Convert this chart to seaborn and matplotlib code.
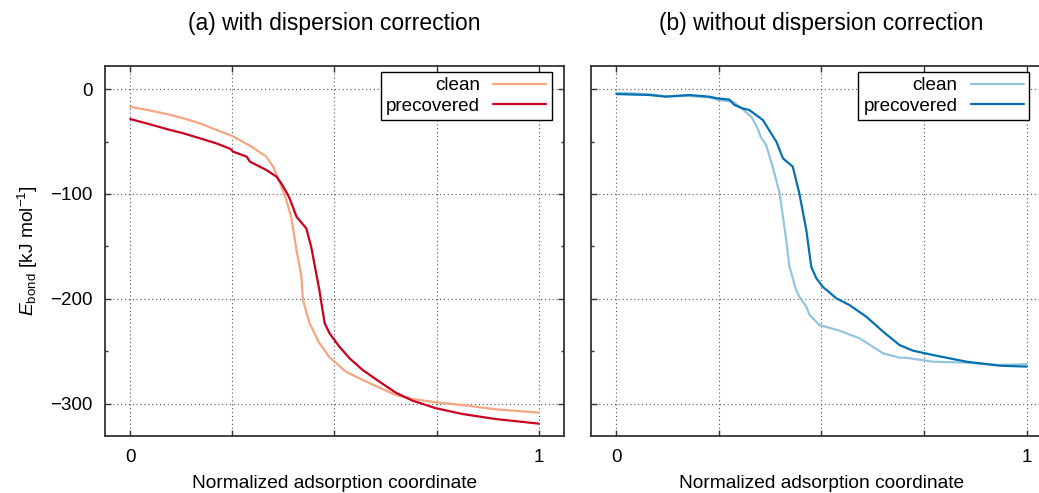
import matplotlib
matplotlib.use('Agg')
import matplotlib.pyplot as plt
import seaborn as sns
import pandas as pd
from matplotlib.ticker import MultipleLocator

# (a) with dispersion correction
a_clean_x = [0, 0.049, 0.089, 0.13, 0.171, 0.211, 0.25, 0.293, 0.333, 0.35, 0.362, 0.37, 0.382,
             0.394, 0.407, 0.419, 0.423, 0.439, 0.463, 0.488, 0.528, 0.569, 0.61, 0.65, 0.691,
             0.748, 0.813, 0.894, 1.0]
a_clean_y = [-17, -20.5, -23.8, -27.9, -32.7, -39, -44.8, -54, -64.4, -74, -85, -93, -105.7,
             -121.6, -153.3, -178.7, -201, -223, -242, -255.6, -269.2, -277.1, -284.4, -291.4, -295.2,
             -298.4, -301, -305, -308.2]
a_prec_x = [0, 0.049, 0.089, 0.13, 0.171, 0.211, 0.245, 0.252, 0.285, 0.293, 0.333, 0.358, 0.37,
            0.382, 0.39, 0.407, 0.431, 0.443, 0.463, 0.476, 0.488, 0.512, 0.537, 0.569, 0.61,
            0.65, 0.691, 0.748, 0.813, 0.894, 1.0]
a_prec_y = [-28.6, -33.7, -38.1, -42.2, -47, -51.8, -57, -59.7, -64.4, -69.2, -77.1, -83.5, -90,
            -98, -104, -121.6, -132.7, -150.2, -191.4, -223, -232.7, -245.4, -256.5, -267.6, -278.7,
            -289.2, -296.8, -304, -309.5, -314.3, -318.7]

# (b) without dispersion correction
b_clean_x = [0, 0.08, 0.12, 0.177, 0.226, 0.25, 0.284, 0.31, 0.33, 0.345, 0.352, 0.365, 0.381,
             0.398, 0.414, 0.422, 0.438, 0.446, 0.463, 0.471, 0.495, 0.544, 0.593, 0.65, 0.69,
             0.705, 0.771, 0.853, 0.934, 1.0]
b_clean_y = [-3.5, -5, -7, -6.7, -8, -10.5, -12, -20, -27, -38, -46, -53.3, -74,
             -99.4, -143.8, -169.2, -191.4, -197.8, -207.3, -215.2, -224.8, -230.2, -237.5, -251.7, -255.9,
             -255.9, -259.7, -260.6, -262.9, -262]
b_prec_x = [0, 0.08, 0.12, 0.177, 0.226, 0.247, 0.275, 0.287, 0.307, 0.324, 0.357, 0.39, 0.406,
            0.43, 0.446, 0.463, 0.475, 0.487, 0.503, 0.536, 0.568, 0.609, 0.65, 0.69, 0.723,
            0.771, 0.853, 0.934, 1.0]
b_prec_y = [-4.8, -5.7, -7.3, -5.7, -7.3, -9, -10, -15, -18.4, -20, -29.5, -50.2, -66,
            -74, -99.4, -134.3, -169.2, -180, -188.3, -199.3, -205.7, -216.8, -231, -243.8, -249.2,
            -253.3, -259.7, -263.5, -264.4]

series_names = ["clean", "precovered"]
titles = ["(a) with dispersion correction", "(b) without dispersion correction"]
x_ticks = [0, 0.25, 0.5, 0.75, 1]
x_ticklabels = ["0", "", "", "", "1"]
y_ticks = [0, -100, -200, -300]

sns.set_style("ticks")
plt.rcParams['font.family'] = ['Liberation Sans', 'DejaVu Sans']
plt.rcParams['mathtext.fontset'] = 'custom'
plt.rcParams['mathtext.rm'] = 'Liberation Sans'
plt.rcParams['mathtext.it'] = 'Liberation Sans:italic'
plt.rcParams['text.color'] = 'black'
plt.rcParams['axes.labelcolor'] = 'black'
plt.rcParams['xtick.labelcolor'] = 'black'
plt.rcParams['ytick.labelcolor'] = 'black'


def make_df(cx, cy, px, py):
    d1 = pd.DataFrame({"x": cx, "y": cy, "series": "clean"})
    d2 = pd.DataFrame({"x": px, "y": py, "series": "precovered"})
    return pd.concat([d1, d2], ignore_index=True)


panels = [
    (make_df(a_clean_x, a_clean_y, a_prec_x, a_prec_y), ["#f4a582", "#ca0020"]),
    (make_df(b_clean_x, b_clean_y, b_prec_x, b_prec_y), ["#92c5de", "#0571b0"]),
]

fig = plt.figure(figsize=(10.39, 4.93), dpi=100)
ax1 = fig.add_axes([0.101, 0.1156, 0.4418, 0.7505])
ax2 = fig.add_axes([0.5688, 0.1156, 0.4437, 0.7505], sharey=ax1)
legend_x = [0.974, 0.951]

for i, (ax, (df, pal)) in enumerate(zip([ax1, ax2], panels)):
    sns.lineplot(data=df, x="x", y="y", hue="series", palette=pal, estimator=None,
                 sort=False, linewidth=1.6, ax=ax)
    ax.set_xlim(-0.062, 1.062)
    ax.set_ylim(-330.5, 21.9)
    ax.set_xticks(x_ticks)
    ax.set_xticklabels(x_ticklabels)
    ax.set_yticks(y_ticks)
    ax.yaxis.set_minor_locator(MultipleLocator(50))
    ax.grid(True, which="major", linestyle=(0, (1, 2.5)), color="#555555", linewidth=0.8)
    ax.tick_params(which="both", direction="in", top=True, right=True, labelsize=13.5,
                   pad=9, color="#333333", width=1)
    ax.tick_params(which="major", length=4)
    ax.tick_params(which="minor", length=2.5)
    for s in ax.spines.values():
        s.set_color("#333333")
        s.set_linewidth(1.3)
    ax.set_title(titles[i], fontsize=16.5, pad=26)
    ax.set_xlabel("Normalized adsorption coordinate", fontsize=13.8, labelpad=7)
    handles, labels = ax.get_legend_handles_labels()
    leg = ax.legend(handles, labels, loc="upper right", bbox_to_anchor=(legend_x[i], 0.985),
                    borderaxespad=0, markerfirst=False, fontsize=13.6, handlelength=2.8,
                    handletextpad=0.7, labelspacing=0.15, borderpad=0.3, fancybox=False,
                    framealpha=1, edgecolor="black")
    leg.get_frame().set_linewidth(1.0)

ax1.set_ylabel(r"$E_{\mathrm{bond}}$ [kJ mol$^{-1}$]", fontsize=13.8, labelpad=7)
ax2.set_ylabel("")
ax2.tick_params(labelleft=False)

fig.savefig("out.png", dpi=100)
